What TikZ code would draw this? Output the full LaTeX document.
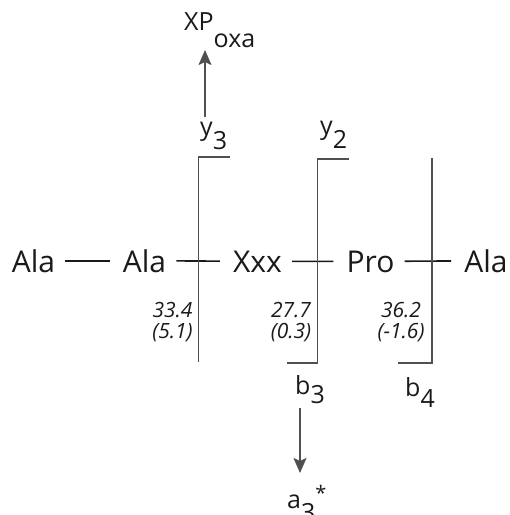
\documentclass[tikz,border=0pt]{standalone}
\usepackage{fontspec}
\setmainfont{Open Sans}
\usetikzlibrary{arrows.meta}
\definecolor{ln}{HTML}{505050}
\definecolor{tx}{HTML}{1A1A1A}
\begin{document}
\begin{tikzpicture}[x=1pt,y=-1pt,
  res/.style={anchor=base,inner sep=0pt,font=\fontsize{30}{30}\selectfont,text=tx},
  lbl/.style={anchor=base west,inner sep=0pt,font=\fontsize{25}{25}\selectfont,text=tx},
  val/.style={anchor=north,inner sep=0pt,align=center,font=\fontsize{21}{21}\selectfont\itshape,text=tx},
  bond/.style={line width=1.6pt,draw=tx,shorten <=10pt,shorten >=13pt},
  cut/.style={line width=1.8pt,draw=ln},
  frag/.style={line width=1.8pt,draw=ln,-{Stealth[length=15pt,width=13pt,inset=3pt]}}]
\useasboundingbox (0,0) rectangle (510,515);
% residues
\node[res] (r1) at (33.5,272) {Ala};
\node[res] (r2) at (144.5,272) {Ala};
\node[res] (r3) at (257.5,272) {Xxx};
\node[res] (r4) at (370.5,272) {Pro};
\node[res] (r5) at (486,272) {Ala};
\draw[bond] (r1) -- (r2);
\draw[bond] (r2) -- (r3);
\draw[bond] (r3) -- (r4);
\draw[bond] (r4) -- (r5);
% cleavage lines
\draw[cut] (230,157) -- (198.5,157) -- (198.5,362);
\draw[cut] (349,159) -- (317.5,159) -- (317.5,363) -- (287,363);
\draw[cut] (432,158) -- (432,363) -- (398,363);
% fragment labels
\node[lbl] (y3) at (200,135) {y\raisebox{-14pt}{3}};
\node[lbl] (y2) at (320,134) {y\raisebox{-14pt}{2}};
\node[lbl] (b3) at (295,394) {b\raisebox{-9pt}{3}};
\node[lbl] (b4) at (405,396) {b\raisebox{-11pt}{4}};
\node[lbl] (a3) at (287,508) {a\raisebox{-13pt}{3}\raisebox{8pt}{\fontsize{20}{20}\selectfont *}};
\node[anchor=base west,inner sep=0pt,text=tx,font=\fontsize{25}{25}\selectfont] (xp) at (184,30)
  {XP\raisebox{-17pt}{oxa}};
% values
\node[val] (v1) at (172.5,302) {33.4\\(5.1)};
\node[val] (v2) at (291,302) {27.7\\(0.3)};
\node[val] (v3) at (401,302) {36.2\\(-1.6)};
% arrows
\coordinate (u0) at (205,117);
\coordinate (u1) at (205,50);
\coordinate (d0) at (300,408);
\coordinate (d1) at (300,473);
\draw[frag] (u0) -- (u1);
\draw[frag] (d0) -- (d1);
\end{tikzpicture}
\end{document}
